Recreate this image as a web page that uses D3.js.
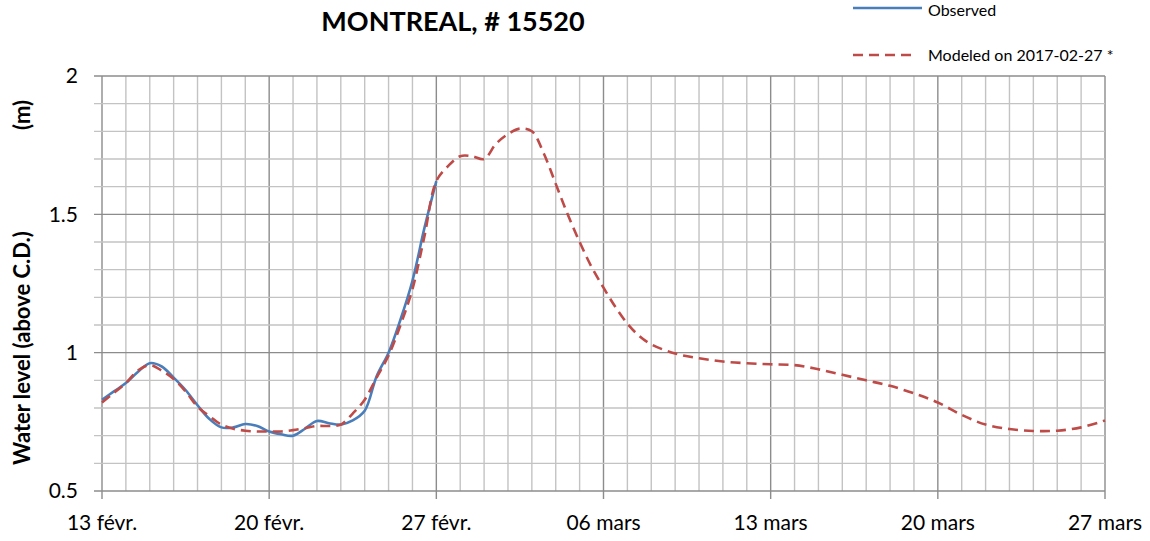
<!DOCTYPE html>
<html>
<head>
<meta charset="utf-8">
<script src="https://cdn.jsdelivr.net/npm/d3@7"></script>
<style>
  body { margin: 0; background: #fff; }
  svg text { font-family: Lato, "Open Sans", sans-serif; fill: #000; }
</style>
</head>
<body>
<div id="chart"></div>
<script>
// day offsets from 2017-02-13 and water levels (m)
const obsDay = [0, 0.5, 1, 1.5, 2, 2.5, 3, 3.5, 4, 4.5, 5, 5.5, 6, 6.5, 7, 7.5, 8, 8.5, 9, 9.5, 10, 10.5, 11, 11.5, 12, 12.5, 13, 13.5, 14];
const obsLevel = [0.83, 0.86, 0.89, 0.93, 0.962, 0.95, 0.91, 0.865, 0.81, 0.76, 0.73, 0.73, 0.742, 0.735, 0.715, 0.705, 0.70, 0.725, 0.753, 0.745, 0.74, 0.755, 0.79, 0.915, 1.0, 1.12, 1.26, 1.45, 1.62];

const modDay = [0, 0.5, 1, 1.5, 2, 2.5, 3, 3.5, 4, 4.5, 5, 5.5, 6, 6.5, 7, 7.5, 8, 8.5, 9, 9.5, 10, 10.5, 11, 11.5, 12, 12.5, 13, 13.5, 14,
  14.5, 15, 15.5, 16, 16.5, 17, 17.5, 18, 18.5, 19, 19.5, 20, 20.5, 21, 21.5, 22, 22.5, 23,
  24, 25, 26, 27, 28, 29, 30, 31, 32, 33, 34, 35, 36, 37, 38, 39, 40, 41, 42];
const modLevel = [0.82, 0.855, 0.89, 0.935, 0.955, 0.935, 0.905, 0.86, 0.805, 0.77, 0.74, 0.725, 0.718, 0.715, 0.715, 0.715, 0.72, 0.727, 0.735, 0.735, 0.74, 0.78, 0.83, 0.91, 0.99, 1.10, 1.23, 1.42, 1.62,
  1.675, 1.71, 1.71, 1.70, 1.755, 1.79, 1.81, 1.80, 1.72, 1.61, 1.50, 1.40, 1.31, 1.235, 1.165, 1.105, 1.06, 1.03,
  0.997, 0.98, 0.968, 0.962, 0.958, 0.955, 0.94, 0.92, 0.90, 0.88, 0.853, 0.82, 0.775, 0.74, 0.724, 0.717, 0.718, 0.73, 0.755];

const xTickLabels = ["13 févr.", "20 févr.", "27 févr.", "06 mars", "13 mars", "20 mars", "27 mars"];
const yTicks = [0.5, 1, 1.5, 2];

const startDate = new Date(2017, 1, 13);
const toDate = d => new Date(startDate.getTime() + d * 864e5);

const margin = { top: 76, right: 45, bottom: 50, left: 102 },
  width = 1150 - margin.left - margin.right,
  height = 541 - margin.top - margin.bottom;

const svg = d3.select("#chart")
  .append("svg")
  .attr("width", 1150)
  .attr("height", 541);

const g = svg.append("g")
  .attr("transform", `translate(${margin.left},${margin.top})`);

const x = d3.scaleTime()
  .domain([startDate, toDate(42)])
  .range([0, width]);

const y = d3.scaleLinear()
  .domain([0.5, 2])
  .range([height, 0]);

// gridlines: daily minor, weekly major
const days = d3.range(0, 43);
g.selectAll(".vgrid")
  .data(days)
  .join("line")
  .attr("x1", d => x(toDate(d)))
  .attr("x2", d => x(toDate(d)))
  .attr("y1", 0)
  .attr("y2", d => d % 7 === 0 ? height + 8 : height)
  .attr("stroke", d => d % 7 === 0 ? "#8c8c8c" : "#c3c3c3")
  .attr("stroke-width", 1.4);

const levels = d3.range(5, 21).map(v => v / 10);
g.selectAll(".hgrid")
  .data(levels)
  .join("line")
  .attr("x1", -8)
  .attr("x2", width)
  .attr("y1", d => y(d))
  .attr("y2", d => y(d))
  .attr("stroke", d => Math.round(d * 10) % 5 === 0 ? "#8c8c8c" : "#c3c3c3")
  .attr("stroke-width", 1.4);

// x axis labels
g.selectAll(".xlab")
  .data(xTickLabels)
  .join("text")
  .attr("x", (d, i) => x(toDate(i * 7)))
  .attr("y", height + 39)
  .attr("text-anchor", "middle")
  .style("font-size", "21px")
  .text(d => d);

// y axis labels
g.selectAll(".ylab")
  .data(yTicks)
  .join("text")
  .attr("x", -24)
  .attr("y", d => y(d))
  .attr("dy", "0.35em")
  .attr("text-anchor", "end")
  .style("font-size", "21px")
  .text(d => d);

// lines
const line = d3.line()
  .x(d => x(toDate(d[0])))
  .y(d => y(d[1]))
  .curve(d3.curveCatmullRom.alpha(0.5));

g.append("path")
  .datum(obsDay.map((d, i) => [d, obsLevel[i]]))
  .attr("fill", "none")
  .attr("stroke", "#4a7ebb")
  .attr("stroke-width", 2.6)
  .attr("d", line);

g.append("path")
  .datum(modDay.map((d, i) => [d, modLevel[i]]))
  .attr("fill", "none")
  .attr("stroke", "#be4b48")
  .attr("stroke-width", 2.6)
  .attr("stroke-dasharray", "10,6")
  .attr("d", line);

// title
svg.append("text")
  .attr("x", 453)
  .attr("y", 31)
  .attr("text-anchor", "middle")
  .style("font-size", "27px")
  .style("font-weight", "bold")
  .text("MONTREAL, # 15520");

// y axis title
svg.append("text")
  .attr("transform", "translate(30,348) rotate(-90)")
  .attr("text-anchor", "middle")
  .style("font-size", "22px")
  .style("font-weight", "bold")
  .text("Water level (above C.D.)");

svg.append("text")
  .attr("transform", "translate(30,115) rotate(-90)")
  .attr("text-anchor", "middle")
  .style("font-size", "22px")
  .style("font-weight", "bold")
  .text("(m)");

// legend
const legend = [
  { label: "Observed", color: "#4a7ebb", dash: null, y: 8, ty: 10, x2: 922 },
  { label: "Modeled on 2017-02-27 *", color: "#be4b48", dash: "10,6", y: 55, ty: 55, x2: 916 }
];
legend.forEach(l => {
  svg.append("line")
    .attr("x1", 853).attr("x2", l.x2)
    .attr("y1", l.y).attr("y2", l.y)
    .attr("stroke", l.color)
    .attr("stroke-width", 2.6)
    .attr("stroke-dasharray", l.dash);
  svg.append("text")
    .attr("x", 928)
    .attr("y", l.ty)
    .attr("dy", "0.35em")
    .style("font-size", "16px")
    .text(l.label);
});
</script>
</body>
</html>
